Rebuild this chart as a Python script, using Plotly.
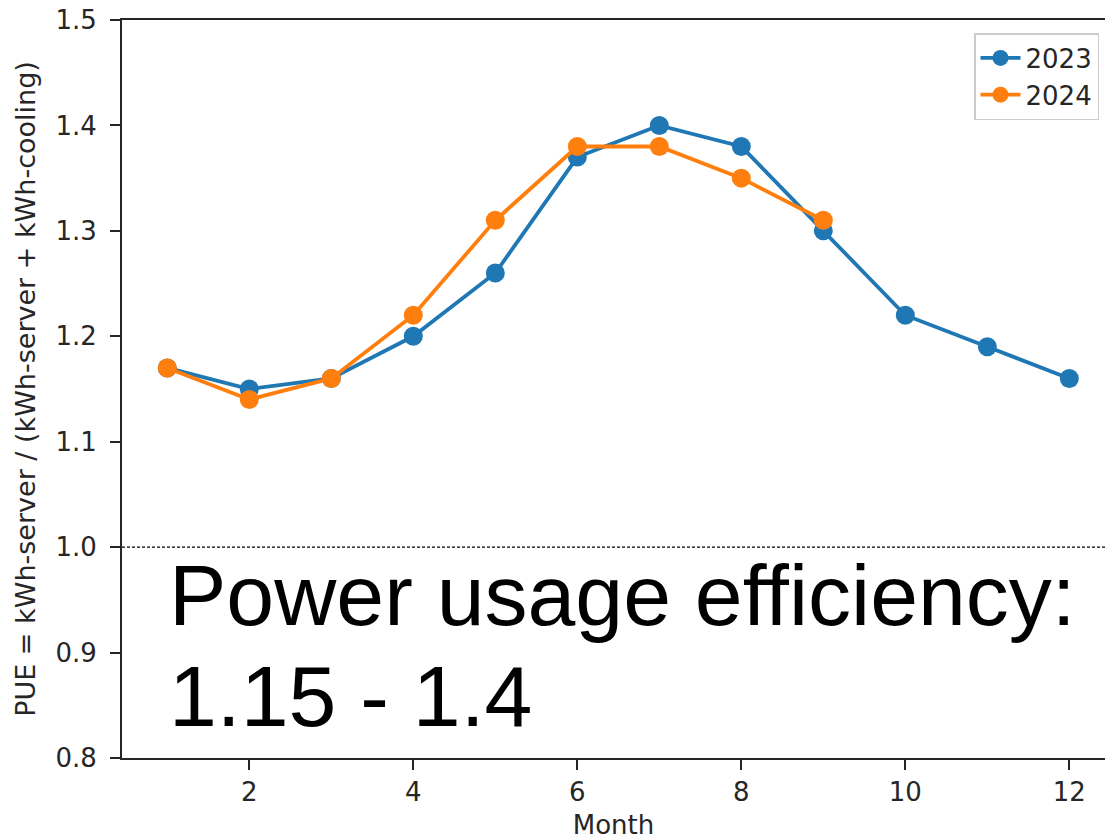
import plotly.graph_objects as go

# Monthly PUE values
months_2023 = [1, 2, 3, 4, 5, 6, 7, 8, 9, 10, 11, 12]
pue_2023 = [1.17, 1.15, 1.16, 1.20, 1.26, 1.37, 1.40, 1.38, 1.30, 1.22, 1.19, 1.16]
months_2024 = [1, 2, 3, 4, 5, 6, 7, 8, 9]
pue_2024 = [1.17, 1.14, 1.16, 1.22, 1.31, 1.38, 1.38, 1.35, 1.31]

x_ticks = [2, 4, 6, 8, 10, 12]
y_ticks = [0.8, 0.9, 1.0, 1.1, 1.2, 1.3, 1.4, 1.5]
ideal_pue = 1.0

W, H = 1105, 840
M_L, M_R, M_T, M_B = 122, 0, 20, 82
PLOT_W = W - M_L - M_R
PLOT_H = H - M_T - M_B


def px_x(px):
    return (px - M_L) / PLOT_W


def px_y(py):
    return (H - M_B - py) / PLOT_H


TICK_FONT = dict(family="DejaVu Sans", size=26, color="#262626")
YTITLE_FONT = dict(family="DejaVu Sans", size=27, color="#262626")
BIG_FONT = dict(family="Liberation Sans, Arial, Helvetica", size=86, color="black")

fig = go.Figure()
fig.add_trace(go.Scatter(
    x=months_2023, y=pue_2023, name="2023", mode="lines+markers",
    line=dict(color="#1f77b4", width=3.8),
    marker=dict(color="#1f77b4", size=19),
))
fig.add_trace(go.Scatter(
    x=months_2024, y=pue_2024, name="2024", mode="lines+markers",
    line=dict(color="#ff7f0e", width=3.8),
    marker=dict(color="#ff7f0e", size=19),
))

# Reference line at PUE = 1
fig.add_shape(type="line", xref="paper", x0=0, x1=1, yref="y", y0=ideal_pue, y1=ideal_pue,
              line=dict(color="black", width=1.2, dash="3px,2px"), layer="below")

fig.add_annotation(text="Power usage efficiency:", xref="paper", yref="paper",
                   x=px_x(167), y=px_y(595), xanchor="left", yanchor="middle",
                   showarrow=False, font=BIG_FONT)
fig.add_annotation(text="1.15 - 1.4", xref="paper", yref="paper",
                   x=px_x(167), y=px_y(696), xanchor="left", yanchor="middle",
                   showarrow=False, font=BIG_FONT)

fig.update_layout(
    width=W, height=H, autosize=False,
    margin=dict(l=M_L, r=M_R, t=M_T, b=M_B),
    paper_bgcolor="white", plot_bgcolor="white",
    showlegend=True,
    legend=dict(
        x=px_x(1099), y=px_y(33), xanchor="right", yanchor="top",
        bgcolor="rgba(255,255,255,0.8)", bordercolor="#cccccc", borderwidth=1.5,
        font=dict(family="DejaVu Sans", size=26, color="#262626"),
        itemwidth=40, tracegroupgap=0,
    ),
    xaxis=dict(
        range=[0.4475, 12.435], tickvals=x_ticks, ticks="outside", ticklen=10, tickwidth=2,
        tickcolor="#262626", showline=True, linecolor="#262626", linewidth=2, mirror=True,
        showgrid=False, zeroline=False, tickfont=TICK_FONT, ticklabelstandoff=0,
        title=dict(text="Month", font=TICK_FONT, standoff=14),
    ),
    yaxis=dict(
        range=[0.8, 1.5], tickvals=y_ticks, tickformat=".1f", ticks="outside", ticklen=10,
        tickwidth=2, tickcolor="#262626", showline=True, linecolor="#262626", linewidth=2,
        mirror=False, showgrid=False, zeroline=False, tickfont=TICK_FONT, ticklabelstandoff=8,
        title=dict(text="PUE = kWh-server / (kWh-server + kWh-cooling)", font=YTITLE_FONT, standoff=12),
    ),
)

fig.write_html("out.html")
